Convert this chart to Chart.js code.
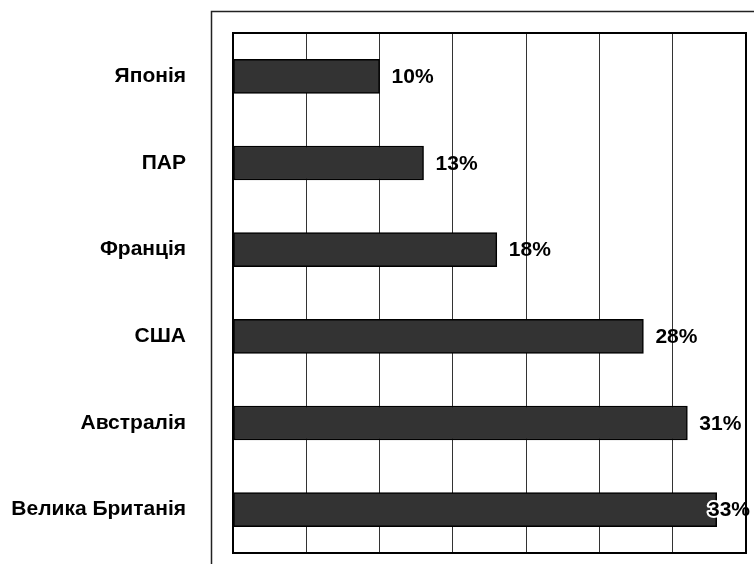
<!DOCTYPE html>
<html>
<head>
<meta charset="utf-8">
<script src="https://cdn.jsdelivr.net/npm/chart.js@4/dist/chart.umd.min.js"></script>
<style>
  html, body { margin: 0; padding: 0; background: #fff; }
  #wrap { width: 754px; height: 564px; }
</style>
</head>
<body>
<div id="wrap"><canvas id="chart"></canvas></div>
<script>
// Countries, top to bottom
const countries = ['Японія', 'ПАР', 'Франція', 'США', 'Австралія', 'Велика Британія'];
// Share, percent
const shares = [10, 13, 18, 28, 31, 33];
// Value axis: 0..35 in steps of 5
const axisMax = 35;
const axisStep = 5;

const FONT = '"Liberation Sans", Arial, sans-serif';

// Frame around the whole chart plus the thick box round the plot area
const framePlugin = {
  id: 'frame',
  beforeDraw(chart) {
    const ctx = chart.ctx;
    ctx.save();
    ctx.strokeStyle = '#222';
    ctx.lineWidth = 1.5;
    ctx.beginPath();
    ctx.moveTo(211.5, chart.height + 5);
    ctx.lineTo(211.5, 11.5);
    ctx.lineTo(chart.width + 5, 11.5);
    ctx.stroke();
    ctx.restore();
  },
  afterDraw(chart) {
    const { ctx, chartArea: a } = chart;
    ctx.save();
    ctx.strokeStyle = '#000';
    ctx.lineWidth = 2;
    ctx.strokeRect(a.left, a.top, a.right - a.left, a.bottom - a.top);
    ctx.restore();
  }
};

// Percent labels to the right of each bar; kept inside the canvas
const valueLabels = {
  id: 'valueLabels',
  afterDatasetsDraw(chart) {
    const ctx = chart.ctx;
    const meta = chart.getDatasetMeta(0);
    ctx.save();
    ctx.font = 'bold 21px ' + FONT;
    ctx.textAlign = 'left';
    ctx.textBaseline = 'middle';
    ctx.lineJoin = 'round';
    meta.data.forEach((bar, i) => {
      const text = shares[i] + '%';
      const w = ctx.measureText(text).width;
      const x = Math.min(bar.x + 12, chart.width - w - 4);
      if (x < bar.x + 4) {
        // white halo where the label runs onto the bar
        ctx.strokeStyle = '#fff';
        ctx.lineWidth = 4;
        ctx.strokeText(text, x, bar.y + 1);
      }
      ctx.fillStyle = '#000';
      ctx.fillText(text, x, bar.y + 1);
    });
    ctx.restore();
  }
};

new Chart(document.getElementById('chart'), {
  type: 'bar',
  data: {
    labels: countries,
    datasets: [{
      data: shares,
      backgroundColor: '#333333',
      borderColor: '#000',
      borderWidth: 1.5,
      borderSkipped: false,
      barThickness: 34
    }]
  },
  options: {
    indexAxis: 'y',
    responsive: true,
    maintainAspectRatio: false,
    animation: false,
    layout: { padding: { top: 33, right: 8, bottom: 11, left: 0 } },
    plugins: {
      legend: { display: false },
      tooltip: { enabled: false }
    },
    scales: {
      x: {
        min: 0,
        max: axisMax,
        ticks: { stepSize: axisStep, display: false },
        grid: { color: '#333', lineWidth: 1, drawTicks: false },
        border: { display: false },
        afterFit(scale) {
          scale.height = 0;
          scale.paddingLeft = 0;
          scale.paddingRight = 0;
        }
      },
      y: {
        grid: { display: false, drawTicks: false },
        border: { display: false },
        ticks: {
          color: '#000',
          padding: 47,
          font: { family: FONT, size: 21, weight: 'bold' }
        },
        afterFit(scale) {
          scale.width = 233;
          scale.paddingTop = 0;
          scale.paddingBottom = 0;
        }
      }
    }
  },
  plugins: [framePlugin, valueLabels]
});
</script>
</body>
</html>
